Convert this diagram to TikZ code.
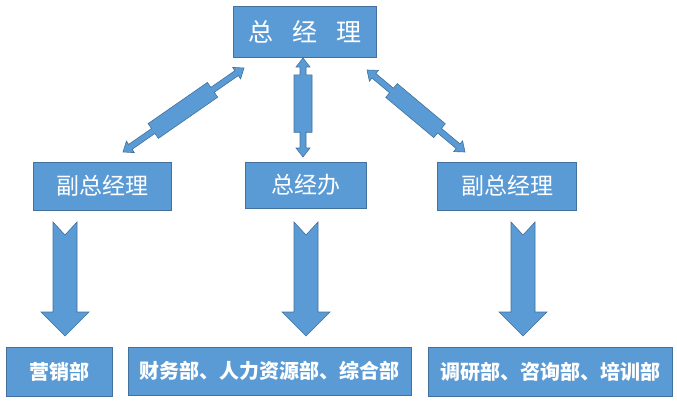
\documentclass[tikz,border=0pt]{standalone}
\usepackage{fontspec}
\setmainfont{Noto Sans CJK SC}
\usetikzlibrary{calc}
\definecolor{boxblue}{HTML}{5B9BD5}
\definecolor{edgeblue}{HTML}{41719C}
\tikzset{
  box/.style={draw=edgeblue, line width=0.8pt, fill=boxblue, text=white, inner sep=0pt},
  arr/.style={draw=edgeblue, line width=0.6pt, fill=boxblue},
  dbl/.style 2 args={to path={
    let \p1=(\tikztostart), \p2=(\tikztotarget),
        \n1={atan2(\y2-\y1,\x2-\x1)} in
    (\p1) -- ($(\p1)!9pt!(\p2)+({\n1+90}:7pt)$) -- ($(\p1)!9pt!(\p2)+({\n1+90}:3pt)$)
    -- ($(\p1)!#1!(\p2)+({\n1+90}:3pt)$) -- ($(\p1)!#1!(\p2)+({\n1+90}:9pt)$)
    -- ($(\p1)!#2!(\p2)+({\n1+90}:9pt)$) -- ($(\p1)!#2!(\p2)+({\n1+90}:3pt)$)
    -- ($(\p2)!9pt!(\p1)+({\n1+90}:3pt)$) -- ($(\p2)!9pt!(\p1)+({\n1+90}:7pt)$)
    -- (\p2)
    -- ($(\p2)!9pt!(\p1)+({\n1-90}:7pt)$) -- ($(\p2)!9pt!(\p1)+({\n1-90}:3pt)$)
    -- ($(\p1)!#2!(\p2)+({\n1-90}:3pt)$) -- ($(\p1)!#2!(\p2)+({\n1-90}:9pt)$)
    -- ($(\p1)!#1!(\p2)+({\n1-90}:9pt)$) -- ($(\p1)!#1!(\p2)+({\n1-90}:3pt)$)
    -- ($(\p1)!9pt!(\p2)+({\n1-90}:3pt)$) -- ($(\p1)!9pt!(\p2)+({\n1-90}:7pt)$)
    -- cycle}},
  blockdown/.pic={
    \path[arr] (-12,0) -- (0,13) -- (12,0) -- (12,90) -- (24,90) -- (0,114)
      -- (-24,90) -- (-12,90) -- cycle;}
}

\begin{document}
\begin{tikzpicture}[x=1pt, y=-1pt]
\useasboundingbox (0,0) rectangle (677,404);
\node[box, minimum width=143, minimum height=51, font=\fontsize{25}{25}\selectfont] (gm) at (305,32) {总\hspace{0.75em}经\hspace{0.75em}理};
\node[box, minimum width=138, minimum height=48, font=\fontsize{23}{23}\selectfont] (vp1) at (102,186) {副总经理};
\node[box, minimum width=121, minimum height=46, font=\fontsize{23}{23}\selectfont] (off) at (305.5,185) {总经办};
\node[box, minimum width=139, minimum height=48, font=\fontsize{23}{23}\selectfont] (vp2) at (507,186) {副总经理};
\node[box, minimum width=106, minimum height=49, font=\fontsize{20}{20}\selectfont\bfseries] (sales) at (59,372) {营销部};
\node[box, minimum width=283, minimum height=48, font=\fontsize{20}{20}\selectfont\bfseries] (admin) at (269.5,371) {财务部、人力资源部、综合部};
\node[box, minimum width=244, minimum height=49, font=\fontsize{20}{20}\selectfont\bfseries] (research) at (550,371.5) {调研部、咨询部、培训部};

% connectors between the manager and the second row
\coordinate (a1) at (244,68);
\coordinate (a2) at (123,152);
\coordinate (b1) at (303,58);
\coordinate (b2) at (303,157);
\coordinate (c1) at (367,70);
\coordinate (c2) at (465,152);
\path[arr] (a1) to[dbl={0.26}{0.75}] (a2);
\path[arr] (b1) to[dbl={0.17}{0.75}] (b2);
\path[arr] (c1) to[dbl={0.25}{0.74}] (c2);

% block arrows down to the departments
\pic at (65,222) {blockdown};
\pic at (306,222) {blockdown};
\pic at (523,222) {blockdown};
\end{tikzpicture}
\end{document}
